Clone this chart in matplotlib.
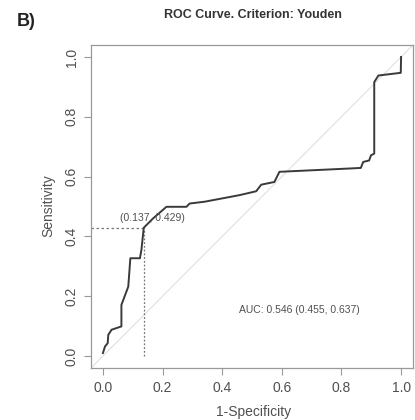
import matplotlib
matplotlib.use("Agg")
import matplotlib.pyplot as plt

plt.rcParams['font.family'] = ['Liberation Sans', 'DejaVu Sans']

# ROC curve points (1 - specificity, sensitivity)
fpr = [0.0, 0.007, 0.016, 0.018, 0.029, 0.062, 0.062, 0.085, 0.092, 0.124, 0.129,
       0.137, 0.168, 0.213, 0.280, 0.291, 0.341, 0.458, 0.514, 0.531, 0.575, 0.592,
       0.826, 0.865, 0.873, 0.893, 0.899, 0.910, 0.910, 0.924, 0.999, 1.0]
tpr = [0.010, 0.032, 0.043, 0.071, 0.088, 0.099, 0.171, 0.232, 0.327, 0.327, 0.354,
       0.429, 0.460, 0.499, 0.499, 0.510, 0.516, 0.538, 0.551, 0.573, 0.582, 0.616,
       0.627, 0.629, 0.649, 0.654, 0.671, 0.677, 0.916, 0.938, 0.947, 1.0]

# Youden optimal threshold point
best_fpr = 0.137
best_tpr = 0.429

auc = 0.546
auc_ci = (0.455, 0.637)

ticks = [0.0, 0.2, 0.4, 0.6, 0.8, 1.0]
tick_labels = ["0.0", "0.2", "0.4", "0.6", "0.8", "1.0"]

W, H = 415, 420
fig = plt.figure(figsize=(W / 100, H / 100), dpi=100)
ax = fig.add_axes([91 / W, 1 - 368 / H, (413 - 91) / W, (368 - 45) / H])

grey_txt = "#505050"
frame = "#999999"

ax.axline((0, 0), (1, 1), color="#e0e0e0", lw=0.8, zorder=1)
ax.plot([-0.04, best_fpr], [best_tpr, best_tpr], color="#777777", lw=0.9,
        ls=(0, (2, 2)), zorder=2)
ax.plot([best_fpr, best_fpr], [0, best_tpr], color="#777777", lw=0.9,
        ls=(0, (1.5, 1.5)), zorder=2)
ax.plot(fpr, tpr, color="#3a3a3a", lw=1.4, zorder=3)

ax.text(0.167, 0.463, f"({best_fpr:.3f}, {best_tpr:.3f})", ha="center", va="center",
        fontsize=7.5, color=grey_txt)
ax.text(0.659, 0.154, f"AUC: {auc:.3f} ({auc_ci[0]:.3f}, {auc_ci[1]:.3f})",
        ha="center", va="center", fontsize=7.5, color=grey_txt)

ax.set_xlim(-0.04, 1.04)
ax.set_ylim(-0.04, 1.04)
ax.set_xticks(ticks)
ax.set_xticklabels(tick_labels)
ax.set_yticks(ticks)
ax.set_yticklabels(tick_labels, rotation=90, va="center")
ax.tick_params(direction="out", length=5, width=0.8, color=frame,
               labelsize=10, labelcolor=grey_txt, pad=4)
for s in ax.spines.values():
    s.set_color(frame)
    s.set_linewidth(0.9)

fig.text(253.5 / W, 1 - 411.7 / H, "1-Specificity", ha="center", va="center",
         fontsize=10, color=grey_txt)
fig.text(48 / W, 1 - 206 / H, "Sensitivity", ha="center", va="center",
         rotation=90, fontsize=10, color=grey_txt)
fig.text(253 / W, 1 - 15 / H, "ROC Curve. Criterion: Youden", ha="center",
         va="center", fontsize=9, fontweight="bold", color="#333333")
fig.text(26 / W, 1 - 21 / H, "B)", ha="center", va="center",
         fontsize=13, fontweight="bold", color="#222222")

fig.savefig("out.png", dpi=100)
